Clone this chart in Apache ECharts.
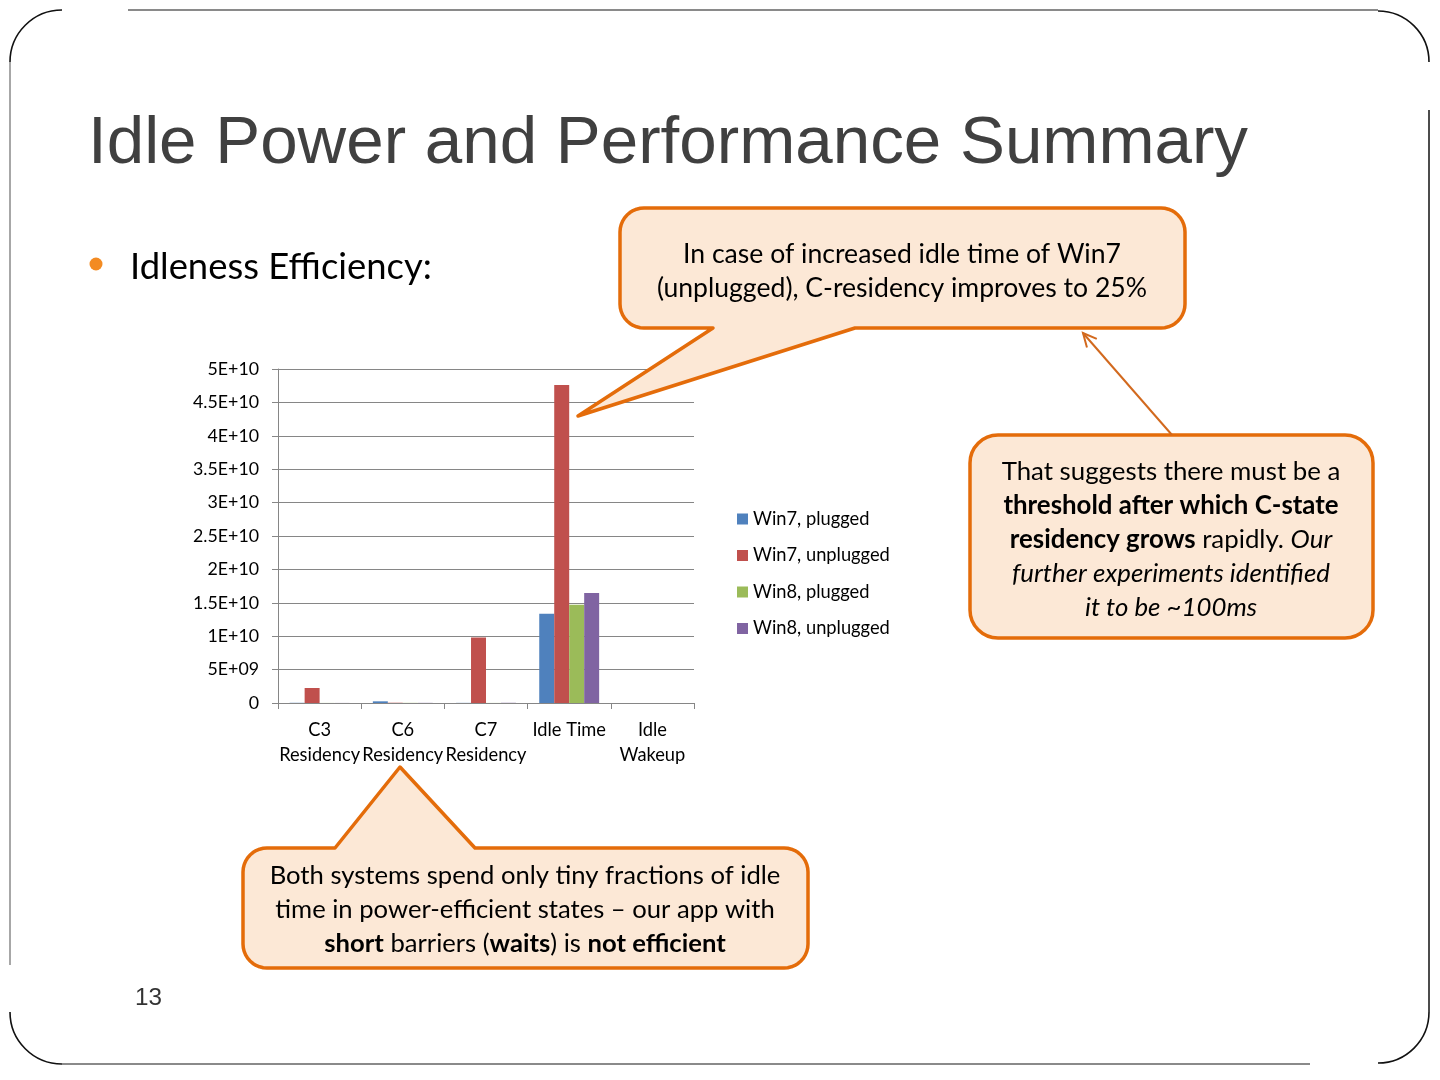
<!DOCTYPE html>
<html><head><meta charset="utf-8">
<script src="https://cdn.jsdelivr.net/npm/echarts@6/dist/echarts.min.js"></script>
<style>html,body{margin:0;padding:0;background:#fff}#c{width:1440px;height:1080px}</style>
</head><body><div id="c"></div>
<script>
// ---- data ----
const categories = ['C3\nResidency', 'C6\nResidency', 'C7\nResidency', 'Idle Time', 'Idle\nWakeup'];
const seriesNames = ['Win7, plugged', 'Win7, unplugged', 'Win8, plugged', 'Win8, unplugged'];
const win7Plugged   = [3e7, 2.5e8, 2e7, 1.335e10, 1e5];
const win7Unplugged = [2.25e9, 4e7, 9.8e9, 4.76e10, 1e5];
const win8Plugged   = [1e7, 2e7, 1e7, 1.47e10, 1e5];
const win8Unplugged = [1e7, 2e7, 3e7, 1.645e10, 1e5];
const yTickLabels = ['0', '5E+09', '1E+10', '1.5E+10', '2E+10', '2.5E+10', '3E+10', '3.5E+10', '4E+10', '4.5E+10', '5E+10'];

// ---- helpers ----
const SANS = 'Lato';
const ARIAL = 'Liberation Sans';
const ctx = document.createElement('canvas').getContext('2d');
function fit(text, family, target, weight) {
  ctx.font = (weight || 'normal') + ' 100px "' + family + '"';
  return 100 * target / ctx.measureText(text).width;
}
const ORANGE = '#E46C0A';
const PEACH = '#FCE8D6';

function arcPts(cx, cy, r, a0, a1) {
  const pts = [], n = 10;
  for (let k = 0; k <= n; k++) {
    const a = a0 + (a1 - a0) * k / n;
    pts.push([cx + r * Math.cos(a), cy + r * Math.sin(a)]);
  }
  return pts;
}
// rounded box outline, clockwise, with optional tail points on top (left->right) or bottom (right->left)
function calloutPts(x1, y1, x2, y2, r, topTail, bottomTail) {
  let p = [];
  p = p.concat(arcPts(x1 + r, y1 + r, r, Math.PI, 1.5 * Math.PI));
  p = p.concat(topTail || []);
  p = p.concat(arcPts(x2 - r, y1 + r, r, 1.5 * Math.PI, 2 * Math.PI));
  p = p.concat(arcPts(x2 - r, y2 - r, r, 0, 0.5 * Math.PI));
  p = p.concat(bottomTail || []);
  p = p.concat(arcPts(x1 + r, y2 - r, r, 0.5 * Math.PI, Math.PI));
  return p;
}

const titleSize = fit('Idle Power and Performance Summary', ARIAL, 1160);
const bulletSize = fit('Idleness Efficiency:', SANS, 302);
const yLabSize = fit('4.5E+10', SANS, 66);
const xLabSize = fit('Residency', SANS, 81);
const legSize = fit('Win7, unplugged', SANS, 137);
const c1Size = fit('In case of increased idle time of Win7', SANS, 438);
const c2Size = fit('That suggests there must be a', SANS, 339);
const c3Size = fit('Both systems spend only tiny fractions of idle', SANS, 511);
const numSize = fit('13', ARIAL, 27);

function richStyles(sz) {
  return {
    n: {fontFamily: SANS, fontSize: sz, lineHeight: 34, fill: '#000', color: '#000'},
    b: {fontFamily: SANS, fontSize: sz, lineHeight: 34, fontWeight: 'bold', fill: '#000', color: '#000'},
    i: {fontFamily: SANS, fontSize: sz, lineHeight: 34, fontStyle: 'italic', fill: '#000', color: '#000'}
  };
}

// arrowhead
const tip = [1083, 333], tail = [1172, 435];
const dx = tail[0] - tip[0], dy = tail[1] - tip[1], L = Math.hypot(dx, dy);
const ux = dx / L, uy = dy / L, ah = 15, ang = 0.45;
function rot(x, y, a) { return [x * Math.cos(a) - y * Math.sin(a), x * Math.sin(a) + y * Math.cos(a)]; }
const a1 = rot(ux, uy, ang), a2 = rot(ux, uy, -ang);

const frameLine = {stroke: '#8a8a8a', lineWidth: 2};
const frameArc = {stroke: '#111', lineWidth: 1.6, fill: null};

const callout1 = calloutPts(620, 208, 1185, 328, 24, null, [[855, 328], [578, 416], [713, 328]]);
const callout3 = calloutPts(243, 848, 808, 968, 24, [[335, 848], [400, 767], [475, 848]], null);

const graphics = [
  // frame
  {type: 'line', shape: {x1: 128, y1: 10, x2: 1378, y2: 10}, style: frameLine, z: 10},
  {type: 'line', shape: {x1: 10, y1: 62, x2: 10, y2: 965}, style: {stroke: '#8a8a8a', lineWidth: 1.5}, z: 10},
  {type: 'line', shape: {x1: 62, y1: 1064, x2: 1310, y2: 1064}, style: frameLine, z: 10},
  {type: 'line', shape: {x1: 1429, y1: 110, x2: 1429, y2: 1012}, style: {stroke: '#111', lineWidth: 1.5}, z: 10},
  {type: 'arc', shape: {cx: 62, cy: 62, r: 52, startAngle: Math.PI, endAngle: 1.5 * Math.PI, clockwise: true}, style: frameArc, z: 10},
  {type: 'arc', shape: {cx: 1378, cy: 62, r: 51, startAngle: 1.5 * Math.PI, endAngle: 2 * Math.PI, clockwise: true}, style: frameArc, z: 10},
  {type: 'arc', shape: {cx: 1378, cy: 1012, r: 51, startAngle: 0, endAngle: 0.5 * Math.PI, clockwise: true}, style: frameArc, z: 10},
  {type: 'arc', shape: {cx: 62, cy: 1012, r: 52, startAngle: 0.5 * Math.PI, endAngle: Math.PI, clockwise: true}, style: frameArc, z: 10},
  // title
  {type: 'text', x: 88, y: 144, style: {text: 'Idle Power and Performance Summary', font: 'normal ' + titleSize.toFixed(2) + 'px "' + ARIAL + '"', fill: '#404040', align: 'left', verticalAlign: 'middle'}, z: 10},
  // bullet
  {type: 'circle', shape: {cx: 96, cy: 264, r: 6.5}, style: {fill: '#F38B22'}, z: 10},
  {type: 'text', x: 130, y: 267, style: {text: 'Idleness Efficiency:', font: 'normal ' + bulletSize.toFixed(2) + 'px "' + SANS + '"', fill: '#000', align: 'left', verticalAlign: 'middle'}, z: 10},
  // slide number
  {type: 'text', x: 135, y: 998, style: {text: '13', font: 'normal ' + numSize.toFixed(2) + 'px "' + ARIAL + '"', fill: '#333', align: 'left', verticalAlign: 'middle'}, z: 10},
  // callout 1
  {type: 'polygon', shape: {points: callout1}, style: {fill: PEACH, stroke: ORANGE, lineWidth: 3.5, lineJoin: 'round'}, z: 100},
  {type: 'text', x: 902, y: 271, style: {text: 'In case of increased idle time of Win7\n(unplugged), C-residency improves to 25%', font: 'normal ' + c1Size.toFixed(2) + 'px "' + SANS + '"', lineHeight: 34, fill: '#000', align: 'center', verticalAlign: 'middle'}, z: 101},
  // callout 2
  {type: 'rect', shape: {x: 970, y: 435, width: 403, height: 203, r: 28}, style: {fill: PEACH, stroke: ORANGE, lineWidth: 3.5}, z: 100},
  {type: 'text', x: 1171, y: 539.5, style: {
    text: '{n|That suggests there must be a}\n{b|threshold after which C-state}\n{b|residency grows}{n| rapidly. }{i|Our}\n{i|further experiments identified}\n{i|it to be ~100ms}',
    rich: richStyles(c2Size), align: 'center', verticalAlign: 'middle'}, z: 101},
  // arrow
  {type: 'line', shape: {x1: tail[0], y1: tail[1], x2: tip[0], y2: tip[1]}, style: {stroke: '#D2691E', lineWidth: 2}, z: 101},
  {type: 'polyline', shape: {points: [[tip[0] + a1[0] * ah, tip[1] + a1[1] * ah], tip, [tip[0] + a2[0] * ah, tip[1] + a2[1] * ah]]}, style: {stroke: '#D2691E', lineWidth: 2, fill: null}, z: 101},
  // callout 3
  {type: 'polygon', shape: {points: callout3}, style: {fill: PEACH, stroke: ORANGE, lineWidth: 3.5, lineJoin: 'round'}, z: 100},
  {type: 'text', x: 525, y: 910, style: {
    text: '{n|Both systems spend only tiny fractions of idle}\n{n|time in power-efficient states – our app with}\n{b|short}{n| barriers (}{b|waits}{n|) is }{b|not efficient}',
    rich: richStyles(c3Size), align: 'center', verticalAlign: 'middle'}, z: 101}
];

const chart = echarts.init(document.getElementById('c'), null, {renderer: 'canvas'});
const colors = ['#4F81BD', '#C0504D', '#9BBB59', '#8064A2'];
const values = [win7Plugged, win7Unplugged, win8Plugged, win8Unplugged];
chart.setOption({
  backgroundColor: '#fff',
  animation: false,
  color: colors,
  textStyle: {fontFamily: SANS},
  grid: {left: 278, right: 746, top: 369, bottom: 377, containLabel: false},
  legend: {
    orient: 'vertical', left: 732, top: 504, padding: 5,
    itemWidth: 11, itemHeight: 11, itemGap: 16.5, icon: 'rect',
    textStyle: {fontFamily: SANS, fontSize: legSize, color: '#000', lineHeight: 20},
    data: seriesNames
  },
  xAxis: {
    type: 'category', data: categories,
    axisLine: {show: true, lineStyle: {color: '#868686', width: 1}},
    axisTick: {show: true, length: 6, lineStyle: {color: '#868686'}},
    axisLabel: {interval: 0, margin: 15, lineHeight: 25, fontFamily: SANS, fontSize: xLabSize, color: '#000'},
    splitLine: {show: false}
  },
  yAxis: {
    type: 'value', min: 0, max: 5e10, interval: 5e9,
    axisLine: {show: true, lineStyle: {color: '#868686', width: 1}},
    axisTick: {show: true, length: 6, lineStyle: {color: '#868686'}},
    axisLabel: {margin: 19, fontFamily: SANS, fontSize: yLabSize, color: '#000',
      formatter: v => yTickLabels[Math.round(v / 5e9)]},
    splitLine: {show: true, lineStyle: {color: '#868686', width: 1}}
  },
  series: seriesNames.map((n, i) => ({
    name: n, type: 'bar', data: values[i], barGap: '0%', barCategoryGap: '28%',
    itemStyle: {color: colors[i]}
  })),
  graphic: graphics
});
</script></body></html>
